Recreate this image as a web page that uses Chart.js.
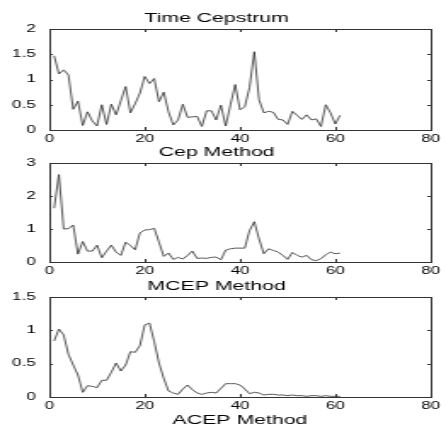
<!DOCTYPE html>
<html>
<head>
<meta charset="utf-8">
<script src="https://cdn.jsdelivr.net/npm/chart.js@4"></script>
<style>
  body { margin: 0; background: #fff; }
  #wrap { position: relative; width: 446px; height: 428px; overflow: hidden; }
  canvas { position: absolute; left: 0; width: 446px; }
</style>
</head>
<body>
<div id="wrap">
  <canvas id="c1" width="262" height="146" style="top:0;height:146px"></canvas>
  <canvas id="c2" width="262" height="140" style="top:138px;height:140px"></canvas>
  <canvas id="c3" width="262" height="156" style="top:272px;height:156px"></canvas>
</div>
<script>
const lags = [1, 2, 3, 4, 5, 6, 7, 8, 9, 10, 11, 12, 13, 14, 15, 16, 17, 18, 19, 20,
  21, 22, 23, 24, 25, 26, 27, 28, 29, 30, 31, 32, 33, 34, 35, 36, 37, 38, 39, 40,
  41, 42, 43, 44, 45, 46, 47, 48, 49, 50, 51, 52, 53, 54, 55, 56, 57, 58, 59, 60, 61];

const timeCepstrum = [1.47, 1.11, 1.19, 1.09, 0.41, 0.57, 0.09, 0.36, 0.18, 0.08,
  0.50, 0.11, 0.51, 0.30, 0.58, 0.86, 0.34, 0.52, 0.73, 1.06,
  0.92, 1.02, 0.56, 0.75, 0.36, 0.10, 0.20, 0.51, 0.25, 0.26,
  0.27, 0.07, 0.38, 0.38, 0.20, 0.49, 0.08, 0.50, 0.90, 0.40,
  0.46, 0.84, 1.55, 0.60, 0.34, 0.37, 0.35, 0.21, 0.20, 0.11,
  0.37, 0.29, 0.21, 0.30, 0.20, 0.22, 0.07, 0.50, 0.34, 0.12, 0.29];

const cepMethod = [1.63, 2.65, 1.00, 1.01, 1.12, 0.24, 0.62, 0.33, 0.33, 0.51,
  0.13, 0.33, 0.51, 0.30, 0.20, 0.60, 0.50, 0.37, 0.88, 0.97,
  0.98, 1.02, 0.60, 0.17, 0.27, 0.08, 0.14, 0.09, 0.20, 0.33,
  0.11, 0.12, 0.11, 0.14, 0.15, 0.07, 0.36, 0.40, 0.42, 0.42,
  0.42, 0.95, 1.22, 0.70, 0.25, 0.40, 0.35, 0.30, 0.20, 0.08,
  0.29, 0.20, 0.15, 0.20, 0.07, 0.04, 0.10, 0.22, 0.30, 0.25, 0.27];

const mcepMethod = [0.84, 1.02, 0.93, 0.64, 0.48, 0.33, 0.07, 0.17, 0.16, 0.14,
  0.25, 0.25, 0.37, 0.51, 0.39, 0.48, 0.68, 0.67, 0.77, 1.08,
  1.11, 0.83, 0.51, 0.28, 0.09, 0.06, 0.04, 0.12, 0.18, 0.11,
  0.06, 0.04, 0.06, 0.07, 0.06, 0.13, 0.20, 0.20, 0.20, 0.18,
  0.12, 0.05, 0.07, 0.06, 0.03, 0.04, 0.04, 0.03, 0.03, 0.02,
  0.03, 0.02, 0.02, 0.01, 0.02, 0.02, 0.01, 0.02, 0.01, 0.01, 0.01];

const xTicks = [0, 20, 40, 60, 80];

Chart.defaults.font.family = 'Liberation Sans, Arial, Helvetica, sans-serif';
Chart.defaults.color = '#000';

// matlab style box with inward tick marks
const boxPlugin = {
  id: 'box',
  afterDraw(chart) {
    const { ctx, chartArea: a, scales: { x, y } } = chart;
    ctx.save();
    ctx.strokeStyle = '#333';
    ctx.lineWidth = 1;
    ctx.strokeRect(Math.round(a.left) + 0.5, Math.round(a.top) + 0.5,
      Math.round(a.right) - Math.round(a.left), Math.round(a.bottom) - Math.round(a.top));
    ctx.beginPath();
    x.ticks.forEach(t => {
      const px = Math.round(x.getPixelForValue(t.value)) + 0.5;
      ctx.moveTo(px, a.top); ctx.lineTo(px, a.top + 3);
      ctx.moveTo(px, a.bottom); ctx.lineTo(px, a.bottom - 3);
    });
    y.ticks.forEach(t => {
      const py = Math.round(y.getPixelForValue(t.value)) + 0.5;
      ctx.moveTo(a.left, py); ctx.lineTo(a.left + 2, py);
      ctx.moveTo(a.right, py); ctx.lineTo(a.right - 2, py);
    });
    ctx.stroke();
    ctx.restore();
  }
};

function makePanel(id, values, yMax, yStep, title, titleTop, xTitle) {
  return new Chart(document.getElementById(id), {
    type: 'line',
    data: {
      labels: lags,
      datasets: [{
        data: values,
        borderColor: '#222',
        borderWidth: 0.75,
        pointRadius: 0,
        tension: 0,
        fill: false
      }]
    },
    options: {
      responsive: false,
      animation: false,
      devicePixelRatio: 1,
      layout: { padding: { left: 0, right: 7.5, top: 0, bottom: 0 } },
      plugins: {
        legend: { display: false },
        tooltip: { enabled: false },
        title: {
          display: true,
          text: title,
          font: { size: 12.5, weight: 'normal' },
          color: '#000',
          padding: { top: titleTop, bottom: 3 }
        }
      },
      scales: {
        x: {
          type: 'linear',
          min: 0,
          max: 80,
          afterBuildTicks: s => { s.ticks = xTicks.map(v => ({ value: v })); },
          afterFit: s => { s.height = xTitle ? 31 : 16; },
          grid: { display: false, drawTicks: false },
          border: { display: false },
          ticks: { font: { size: 10 }, padding: 3.5, maxRotation: 0 },
          title: xTitle ? {
            display: true,
            text: xTitle,
            font: { size: 12.5 },
            color: '#000',
            padding: { top: 0, bottom: 0 }
          } : { display: false }
        },
        y: {
          min: 0,
          max: yMax,
          afterFit: s => { s.width = 29; },
          grid: { display: false, drawTicks: false },
          border: { display: false },
          ticks: {
            stepSize: yStep,
            font: { size: 10 },
            padding: 8,
            callback: v => String(Math.round(v * 10) / 10)
          }
        }
      }
    },
    plugins: [boxPlugin]
  });
}

makePanel('c1', timeCepstrum, 2, 0.5, 'Time Cepstrum', 11, null);
makePanel('c2', cepMethod, 3, 1, 'Cep Method', 7, null);
makePanel('c3', mcepMethod, 1.5, 0.5, 'MCEP Method', 7, 'ACEP Method');
</script>
</body>
</html>
